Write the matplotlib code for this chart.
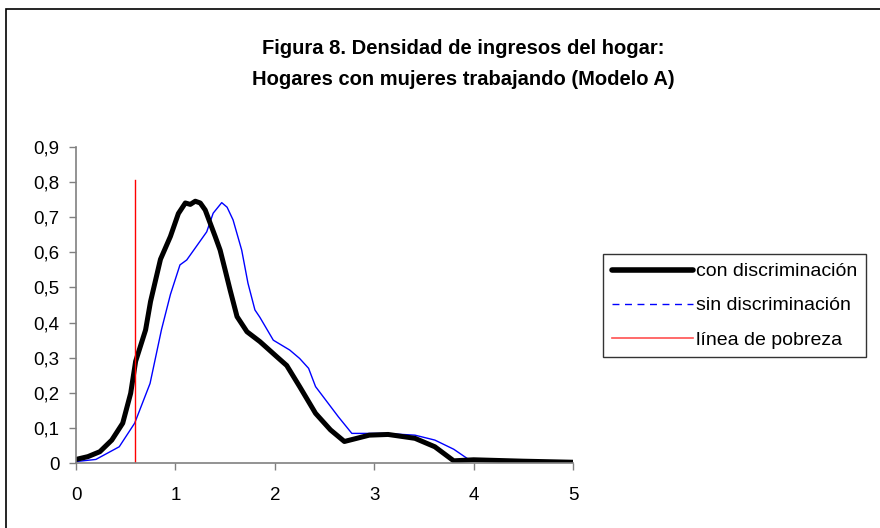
# Densidad de ingresos del hogar, hogares con mujeres trabajando (Modelo A)

import numpy as np
import matplotlib.pyplot as plt
from matplotlib.lines import Line2D
from matplotlib.patches import Rectangle
from matplotlib.ticker import FuncFormatter

plt.rcParams['font.family'] = ['Liberation Sans', 'DejaVu Sans']

# con discriminacion
x_con = [0, 0.12, 0.24, 0.36, 0.47, 0.55, 0.6, 0.7, 0.75, 0.85, 0.95, 1.03, 1.1, 1.15,
         1.2, 1.25, 1.3, 1.4, 1.45, 1.5, 1.55, 1.62, 1.72, 1.85, 2.02, 2.12, 2.25, 2.41,
         2.56, 2.7, 2.95, 3.14, 3.41, 3.61, 3.8, 4.0, 4.5, 5.0]
y_con = [0.011, 0.019, 0.033, 0.066, 0.114, 0.199, 0.29, 0.379, 0.46, 0.58, 0.645,
         0.71, 0.74, 0.736, 0.745, 0.74, 0.72, 0.645, 0.606, 0.55, 0.493, 0.417, 0.374,
         0.346, 0.303, 0.278, 0.218, 0.142, 0.095, 0.062, 0.08, 0.082, 0.071, 0.047,
         0.007, 0.01, 0.006, 0.003]

# sin discriminacion
x_sin = [0, 0.2, 0.435, 0.59, 0.745, 0.86, 0.95, 1.046, 1.114, 1.197, 1.315, 1.38,
         1.466, 1.52, 1.58, 1.667, 1.73, 1.80, 1.85, 1.985, 2.15, 2.25, 2.34, 2.41,
         2.485, 2.64, 2.775, 3.1, 3.41, 3.61, 3.8, 3.95, 4.5, 5.0]
y_sin = [0.005, 0.011, 0.047, 0.114, 0.227, 0.38, 0.48, 0.564, 0.578, 0.611, 0.658,
         0.711, 0.741, 0.728, 0.692, 0.606, 0.512, 0.436, 0.415, 0.35, 0.322, 0.298,
         0.27, 0.218, 0.19, 0.132, 0.085, 0.085, 0.08, 0.066, 0.04, 0.011, 0.007, 0.003]

# linea de pobreza
x_pob = [0.594, 0.594]
y_pob = [0, 0.805]

labels = ['con discriminación', 'sin discriminación', 'línea de pobreza']

fig = plt.figure(figsize=(8.8, 5.28), dpi=100)
ax = fig.add_axes([76 / 880, 1 - 463.3 / 528, (573 - 76) / 880, (463.3 - 146.7) / 528])

ax.plot(x_sin, y_sin, color='#0000ff', lw=1.0)
ax.plot(x_con, y_con, color='black', lw=3.6, solid_capstyle='round', solid_joinstyle='round')
ax.plot(x_pob, y_pob, color='#ff0000', lw=1.0)

ax.set_xlim(0, 5)
ax.set_ylim(0, 0.9)
ax.set_xticks(np.arange(0, 6, 1))
ax.set_yticks(np.arange(0, 1.0, 0.1))
ax.yaxis.set_major_formatter(FuncFormatter(lambda v, p: ('%.1f' % v).replace('.', ',') if v > 0 else '0'))
for s in ['top', 'right']:
    ax.spines[s].set_visible(False)
for s in ['left', 'bottom']:
    ax.spines[s].set_color('#808080')
    ax.spines[s].set_linewidth(1.2)
ax.tick_params(direction='out', length=5, width=1, color='#808080', labelsize=13.5)
ax.tick_params(axis='y', pad=7)
ax.tick_params(axis='x', pad=12)

# titulo
fig.text(463 / 880, 1 - 64 / 528,
         'Figura 8. Densidad de ingresos del hogar:\nHogares con mujeres trabajando (Modelo A)',
         ha='center', va='center', fontsize=14.5, fontweight='bold', linespacing=1.8)

# leyenda
handles = [Line2D([], [], color='black', lw=4, solid_capstyle='round'),
           Line2D([], [], color='#0000ff', lw=1, ls=(0, (5, 4))),
           Line2D([], [], color='#ff5050', lw=1.2)]
leg = fig.legend(handles, labels, loc='upper left', bbox_to_anchor=(603 / 880, 1 - 254 / 528),
                 fontsize=14, frameon=True, fancybox=False, handlelength=4.2,
                 handletextpad=0.15, borderpad=0.45, labelspacing=0.85, borderaxespad=0)
leg.get_frame().set_edgecolor('black')
leg.get_frame().set_linewidth(1.0)

# marco exterior
fig.patches.append(Rectangle((6 / 880, -0.1), 1.2, 1 - 9 / 528 + 0.1, transform=fig.transFigure,
                             fill=False, edgecolor='black', lw=1.2))

fig.savefig('out.png', dpi=100)
